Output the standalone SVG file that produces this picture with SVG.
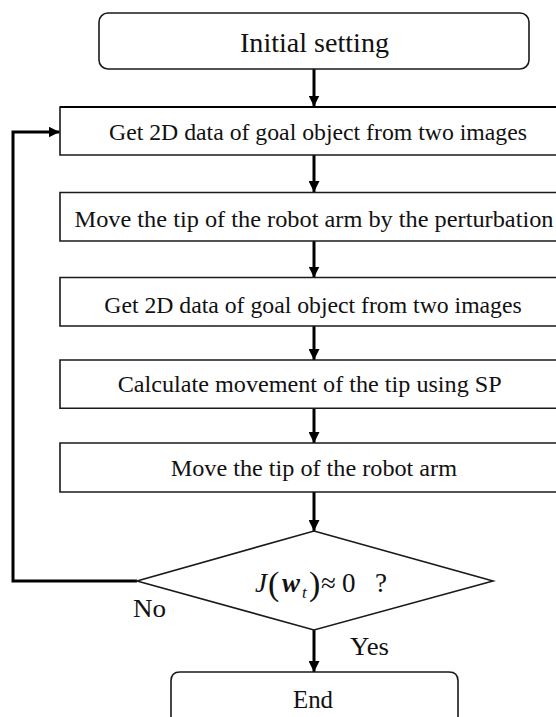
<svg xmlns="http://www.w3.org/2000/svg" width="556" height="717" viewBox="0 0 556 717">
  <style>
    .box { fill: #ffffff; stroke: #1a1a1a; stroke-width: 1.6; }
    .lbl { font-family: 'Liberation Serif', 'Times New Roman', serif; font-size: 24px; fill: #111; }
    .conn { fill: none; stroke: #000; stroke-width: 3; }
    .math { font-family: 'Liberation Serif', 'Times New Roman', serif; fill: #111; }
  </style>
  <defs>
    <marker id="arr" markerUnits="userSpaceOnUse" markerWidth="12" markerHeight="11" refX="11" refY="5.5" orient="auto">
      <path d="M0,0 L11,5.5 L0,11 z" fill="#000"/>
    </marker>
  </defs>
  <rect width="556" height="717" fill="#ffffff"/>

  <g id="connectors">
    <line class="conn" x1="314" y1="69" x2="314" y2="106.5" marker-end="url(#arr)"/>
    <line class="conn" x1="314" y1="155" x2="314" y2="192" marker-end="url(#arr)"/>
    <line class="conn" x1="314" y1="241" x2="314" y2="277.5" marker-end="url(#arr)"/>
    <line class="conn" x1="314" y1="326" x2="314" y2="360" marker-end="url(#arr)"/>
    <line class="conn" x1="314" y1="408" x2="314" y2="443" marker-end="url(#arr)"/>
    <line class="conn" x1="314" y1="492" x2="314" y2="531" marker-end="url(#arr)"/>
    <line class="conn" x1="314" y1="630" x2="314" y2="672" marker-end="url(#arr)"/>
    <polyline class="conn" points="137,581 13,581 13,132 59.5,132" marker-end="url(#arr)"/>
  </g>

  <g id="start">
    <rect class="box" x="99" y="13" width="430" height="56" rx="9" ry="9"/>
    <text class="lbl" x="240" y="52" style="font-size:27px" textLength="149" lengthAdjust="spacingAndGlyphs">Initial setting</text>
  </g>

  <g id="step1">
    <path class="box" d="M556,107 H60 V155 H556"/>
    <line x1="60" y1="107" x2="556" y2="107" stroke="#000" stroke-width="2"/>
    <text class="lbl" x="109" y="140" textLength="418" lengthAdjust="spacingAndGlyphs">Get 2D data of goal object from two images</text>
  </g>

  <g id="step2">
    <path class="box" d="M556,192.5 H60 V241 H556"/>
    <text class="lbl" x="74.5" y="226.7" textLength="479" lengthAdjust="spacingAndGlyphs">Move the tip of the robot arm by the perturbation</text>
  </g>

  <g id="step3">
    <path class="box" d="M556,277.5 H60 V326 H556"/>
    <text class="lbl" x="104.3" y="313" textLength="417.4" lengthAdjust="spacingAndGlyphs">Get 2D data of goal object from two images</text>
  </g>

  <g id="step4">
    <path class="box" d="M556,360 H60 V408.3 H556"/>
    <text class="lbl" x="117.7" y="392" textLength="384" lengthAdjust="spacingAndGlyphs">Calculate movement of the tip using SP</text>
  </g>

  <g id="step5">
    <path class="box" d="M556,443 H60 V492 H556"/>
    <text class="lbl" x="170.7" y="476" textLength="286.3" lengthAdjust="spacingAndGlyphs">Move the tip of the robot arm</text>
  </g>

  <g id="decision">
    <polygon class="box" points="314,531 493,581 314,630 137,581"/>
    <text class="math" y="592">
      <tspan x="255" font-size="27" font-style="italic">J</tspan>
      <tspan x="268" y="595" font-size="34">(</tspan>
      <tspan x="282" y="592" font-size="27" font-style="italic" font-weight="bold">w</tspan>
      <tspan x="302" y="598" font-size="17" font-style="italic">t</tspan>
      <tspan x="309" y="595" font-size="34">)</tspan>
      <tspan x="321" y="592" font-size="27">≈</tspan>
      <tspan x="342" y="592" font-size="27">0</tspan>
      <tspan x="375" y="592" font-size="27">?</tspan>
    </text>
  </g>

  <g id="labels">
    <text class="lbl" x="133" y="617" style="font-size:26px" textLength="33" lengthAdjust="spacingAndGlyphs">No</text>
    <text class="lbl" x="350" y="655" style="font-size:26px" textLength="39" lengthAdjust="spacingAndGlyphs">Yes</text>
  </g>

  <g id="end">
    <path class="box" d="M171,717 V681 Q171,672 180,672 H449 Q458,672 458,681 V717"/>
    <text class="lbl" x="293" y="708" style="font-size:25px" textLength="40" lengthAdjust="spacingAndGlyphs">End</text>
  </g>
</svg>
